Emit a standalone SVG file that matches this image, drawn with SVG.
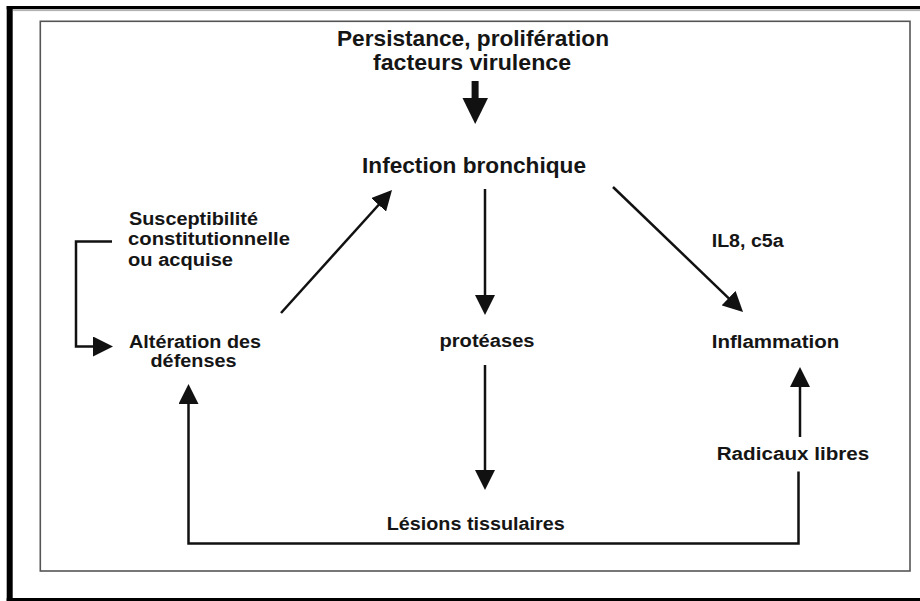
<svg xmlns="http://www.w3.org/2000/svg" width="920" height="601" viewBox="0 0 920 601">
  <style>
    .lbl { font-family: "Liberation Sans", Arial, sans-serif; font-weight: bold; fill: #151515; }
    .big { font-size: 22px; }
    .sm { font-size: 18px; }
    .conn { fill: none; stroke: #111; stroke-width: 2.5; }
  </style>
  <defs>
    <marker id="ah" markerUnits="userSpaceOnUse" markerWidth="20" markerHeight="20" refX="14" refY="10" orient="auto">
      <path d="M0,0 L20,10 L0,20 z" fill="#111"/>
    </marker>
  </defs>
  <rect width="920" height="601" fill="#fff"/>
  <g id="frame">
    <line x1="6.7" y1="7.6" x2="920" y2="7.6" stroke="#000" stroke-width="3.4"/>
    <line x1="13" y1="10.6" x2="920" y2="10.6" stroke="#aaa" stroke-width="1"/>
    <line x1="9.7" y1="6" x2="9.7" y2="601" stroke="#000" stroke-width="6"/>
    <line x1="6.7" y1="599.6" x2="920" y2="599.6" stroke="#000" stroke-width="3"/>
    <rect x="40.3" y="21.3" width="869.7" height="549.7" fill="none" stroke="#555" stroke-width="1.6"/>
  </g>
  <g id="n-persistance">
    <text class="lbl big" x="337" y="46" textLength="272" lengthAdjust="spacingAndGlyphs">Persistance, prolifération</text>
    <text class="lbl big" x="373" y="69.5" textLength="198" lengthAdjust="spacingAndGlyphs">facteurs virulence</text>
  </g>
  <g id="n-infection">
    <text class="lbl big" x="362" y="173" textLength="224" lengthAdjust="spacingAndGlyphs">Infection bronchique</text>
  </g>
  <g id="n-susceptibilite">
    <text class="lbl sm" x="129" y="225" textLength="129" lengthAdjust="spacingAndGlyphs">Susceptibilité</text>
    <text class="lbl sm" x="128" y="245" textLength="162" lengthAdjust="spacingAndGlyphs">constitutionnelle</text>
    <text class="lbl sm" x="128" y="265.5" textLength="105" lengthAdjust="spacingAndGlyphs">ou acquise</text>
  </g>
  <g id="n-alteration">
    <text class="lbl sm" x="129" y="347.5" textLength="132" lengthAdjust="spacingAndGlyphs">Altération des</text>
    <text class="lbl sm" x="150.5" y="367" textLength="86" lengthAdjust="spacingAndGlyphs">défenses</text>
  </g>
  <g id="n-proteases">
    <text class="lbl sm" x="439.5" y="347" textLength="95" lengthAdjust="spacingAndGlyphs">protéases</text>
  </g>
  <g id="n-lesions">
    <text class="lbl sm" x="386.7" y="530" textLength="178" lengthAdjust="spacingAndGlyphs">Lésions tissulaires</text>
  </g>
  <g id="n-il8">
    <text class="lbl sm" x="711.7" y="247.3" textLength="72" lengthAdjust="spacingAndGlyphs">IL8, c5a</text>
  </g>
  <g id="n-inflammation">
    <text class="lbl sm" x="711.7" y="348.3" textLength="127.6" lengthAdjust="spacingAndGlyphs">Inflammation</text>
  </g>
  <g id="n-radicaux">
    <text class="lbl sm" x="716.7" y="460" textLength="152.6" lengthAdjust="spacingAndGlyphs">Radicaux libres</text>
  </g>
  <g id="connectors">
    <rect x="471.6" y="81" width="7" height="18" fill="#111"/>
    <polygon points="462.5,98 488,98 475.2,124" fill="#111"/>
    <line class="conn" x1="281" y1="313" x2="388" y2="194.5" marker-end="url(#ah)"/>
    <line class="conn" x1="485" y1="189" x2="485" y2="309" marker-end="url(#ah)"/>
    <line class="conn" x1="485" y1="365" x2="485" y2="484" marker-end="url(#ah)"/>
    <line class="conn" x1="613" y1="187" x2="738.7" y2="307.8" marker-end="url(#ah)"/>
    <line class="conn" x1="800" y1="437" x2="800" y2="373" marker-end="url(#ah)"/>
    <path class="conn" d="M112,241.5 H76 V346.5 H107" marker-end="url(#ah)"/>
    <path class="conn" d="M798.5,471.5 V543.5 H188.5 V390" marker-end="url(#ah)"/>
  </g>
</svg>
